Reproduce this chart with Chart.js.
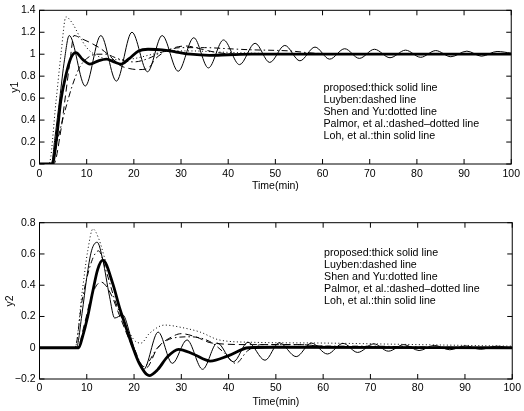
<!DOCTYPE html>
<html><head><meta charset="utf-8">
<script src="https://cdn.jsdelivr.net/npm/chart.js@4.4.1/dist/chart.umd.min.js"></script>
<style>
html,body{margin:0;padding:0;background:#fff;width:524px;height:411px;overflow:hidden}
canvas{position:absolute;left:0}
#c1{top:0}#c2{top:205px}
</style></head>
<body>
<canvas id="c1" width="524" height="205"></canvas>
<canvas id="c2" width="524" height="206"></canvas>
<script>
// ---------- axis ticks ----------
const xTicks = [0,10,20,30,40,50,60,70,80,90,100];
const xTickLabels = ['0','10','20','30','40','50','60','70','80','90','100'];
const y1Ticks = [0,0.2,0.4,0.6,0.8,1,1.2,1.4];
const y1TickLabels = ['0','0.2','0.4','0.6','0.8','1','1.2','1.4'];
const y2Ticks = [-0.2,0,0.2,0.4,0.6,0.8];
const y2TickLabels = ['\u22120.2','0','0.2','0.4','0.6','0.8'];
const legendLines = ['proposed:thick solid line','Luyben:dashed line','Shen and Yu:dotted line','Palmor, et al.:dashed\u2013dotted line','Loh, et al.:thin solid line'];

// ---------- y1 series ----------
const t1Proposed = [0,2.7,3.5,4.5,5.6,6.7,7.7,9.2,10.7,12.5,14.2,15.8,17.3,19,21,23,26,29,32,36,40,45,100];
const y1Proposed = [0,0,0.19,0.57,0.81,0.97,1.015,0.95,0.91,0.94,0.955,0.93,0.91,0.96,1.03,1.045,1.04,1.02,1.0,0.99,0.995,1.0,1.0];
const t1Luyben = [0,3,4.5,5.5,6.5,7.3,9,11,13,15,17,19,21,23,24.6,28,31,34,37,42,50,100];
const y1Luyben = [0,0,0.3,0.62,0.95,1.17,1.14,1.1,1.05,0.98,0.9,0.87,0.86,0.87,0.96,1.05,1.075,1.05,1.02,1.0,1.0,1.0];
const t1Shen = [0,2,3.5,4.6,5.6,7,8.4,10,12,14,17,20,24,28,32,38,45,55,100];
const y1Shen = [0,0,0.57,1.02,1.34,1.28,1.17,1.06,0.99,0.96,0.95,0.96,1.0,1.03,1.03,1.02,1.01,1.0,1.0];
const t1Palmor = [0,2.5,4,5.5,7,8.5,10,12,14,16,18,20,23,26,30,35,40,45,50,53,58,65,100];
const y1Palmor = [0,0,0.25,0.5,0.72,0.88,0.96,1.0,1.0,0.97,0.94,0.93,0.96,1.02,1.06,1.06,1.05,1.04,1.035,1.03,1.01,1.0,1.0];
const t1Loh = [0,2.5,3.3,4.3,5.3,6.3,9.7,13,16.3,19.6,22.9,26,29.4,32.7,35.8,39,42.4,45.7,48.8,52,55.2,58.4,61.5,64.7,67.8,71,74.3,77.6,80.8,84,87.2,90.6,93.7,97,100];
const y1Loh = [0,0,0.25,0.6,0.95,1.17,0.71,1.17,0.755,1.2,0.84,1.17,0.845,1.15,0.875,1.13,0.905,1.1,0.925,1.08,0.94,1.065,0.955,1.05,0.962,1.045,0.968,1.037,0.972,1.033,0.977,1.028,0.982,1.025,1.01];

// ---------- y2 series ----------
const t2Proposed = [0,8.3,9.1,10.2,11.2,12.3,13.4,15.5,16.9,18.3,19.7,21.1,23.2,25,27,29.4,32.5,36.1,40,44.2,50,100];
const y2Proposed = [0,0,0.07,0.2,0.35,0.5,0.56,0.41,0.26,0.13,0.006,-0.1,-0.178,-0.14,-0.06,-0.01,-0.04,-0.085,-0.05,0.0,0.003,0];
const t2Luyben = [0,8,9.5,11,13,15,17,19,21,22.5,25,28,30,33,36.5,45,55,60,70,80,100];
const y2Luyben = [0,0,0.15,0.33,0.42,0.35,0.2,0.05,-0.08,-0.13,0.0,0.07,0.09,0.07,0.03,0.02,0.02,0.01,0.005,0,0];
const t2Shen = [0,7.5,9,10.2,11.3,12.5,14,16,18,20,21.5,23.2,26.5,30,34,38,45,60,80,100];
const y2Shen = [0,0,0.35,0.62,0.76,0.7,0.55,0.35,0.17,0.05,0.03,0.09,0.145,0.13,0.1,0.05,0.035,0.03,0.02,0.01];
const t2Palmor = [0,7.5,9,11,12.5,14,16,18,20,22,25,28,32,36,39,41.5,44,47,50,55,60,70,80,100];
const y2Palmor = [0,0,0.3,0.55,0.62,0.5,0.3,0.15,0.0,-0.12,0.0,0.06,0.07,0.04,-0.03,-0.1,-0.02,0.02,0.02,0.02,0.01,0.01,0.005,0];
const t2Loh = [0,7.8,9,10,11,12.2,13.4,14.8,15.9,17.6,19.3,20.6,22,25.1,28.1,31.2,34.5,37.6,41,44.1,47.7,50.7,54.3,57.5,60.9,64.2,67.3,70.7,73.8,77.1,80.3,83.5,86.8,90.1,93.3,96.7,100];
const y2Loh = [0,0,0.22,0.45,0.62,0.675,0.56,0.33,0.19,0.21,0.07,-0.06,-0.14,0.1,-0.1,0.05,-0.138,0.03,-0.09,0.035,-0.08,0.032,-0.057,0.03,-0.04,0.028,-0.03,0.025,-0.022,0.02,-0.018,0.015,-0.013,0.012,-0.01,0.01,-0.005];

const FONT = "'Liberation Sans', Arial, Helvetica, sans-serif";
Chart.defaults.font.family = FONT;
Chart.defaults.font.size = 10.5;
Chart.defaults.color = '#000';

function pts(t, y){ return t.map((v,i)=>({x:v, y:y[i]})); }

function series(sets){
  const styles = [
    {label:'Loh', w:1, dash:[]},
    {label:'Luyben', w:1, dash:[7,4]},
    {label:'Shen and Yu', w:1, dash:[1,2.5]},
    {label:'Palmor', w:1, dash:[6,3,1.5,3]},
    {label:'proposed', w:2.8, dash:[]}
  ];
  return styles.map((s,i)=>({
    label:s.label, data:pts(sets[i][0], sets[i][1]),
    borderColor:'#000', borderWidth:s.w, borderDash:s.dash,
    pointRadius:0, fill:false, cubicInterpolationMode:'monotone'
  }));
}

const framePlugin = {
  id:'frame',
  afterDatasetsDraw(chart, args, opts){
    const {ctx, chartArea:a, scales:{x, y}} = chart;
    ctx.save();
    ctx.strokeStyle = '#000'; ctx.lineWidth = 1;
    ctx.strokeRect(a.left, a.top, a.right-a.left, a.bottom-a.top);
    ctx.beginPath();
    x.ticks.forEach(t=>{
      const px = x.getPixelForValue(t.value);
      ctx.moveTo(px, a.bottom); ctx.lineTo(px, a.bottom-5);
      ctx.moveTo(px, a.top); ctx.lineTo(px, a.top+5);
    });
    y.ticks.forEach(t=>{
      const py = y.getPixelForValue(t.value);
      ctx.moveTo(a.left, py); ctx.lineTo(a.left+5, py);
      ctx.moveTo(a.right, py); ctx.lineTo(a.right-5, py);
    });
    ctx.stroke();
    ctx.font = '10.7px ' + FONT;
    ctx.fillStyle = '#000';
    ctx.textBaseline = 'middle';
    ctx.textAlign = 'left';
    const lx = x.getPixelForValue(opts.lx);
    const ly = y.getPixelForValue(opts.ly);
    legendLines.forEach((s,i)=>ctx.fillText(s, lx, ly + i*12));
    ctx.restore();
  }
};

function makeChart(id, sets, yTicks, yLabels, ymin, ymax, cfg){
  return new Chart(document.getElementById(id), {
    type:'line',
    data:{datasets:series(sets)},
    options:{
      responsive:false, animation:false, devicePixelRatio:1,
      layout:{padding:{top:cfg.padTop, right:9, left:0, bottom:0}},
      plugins:{legend:{display:false}, tooltip:{enabled:false}, frame:{lx:cfg.lx, ly:cfg.ly}},
      scales:{
        x:{type:'linear', min:0, max:100,
          afterBuildTicks:s=>{s.ticks = xTicks.map(v=>({value:v}));},
          afterFit:s=>{s.height = cfg.xh;},
          grid:{display:false, drawTicks:false}, border:{display:false},
          ticks:{padding:cfg.xpad, maxRotation:0, autoSkip:false, callback:(v,i)=>xTickLabels[i]},
          title:{display:true, text:'Time(min)', padding:{top:0, bottom:cfg.xtpad}}
        },
        y:{type:'linear', min:ymin, max:ymax,
          afterBuildTicks:s=>{s.ticks = yTicks.map(v=>({value:v}));},
          afterFit:s=>{s.width = 39.5;},
          grid:{display:false, drawTicks:false}, border:{display:false},
          ticks:{padding:4, autoSkip:false, callback:(v,i)=>yLabels[i]},
          title:{display:true, text:cfg.ytitle, padding:{top:cfg.ytpad, bottom:0}}
        }
      }
    },
    plugins:[framePlugin]
  });
}

makeChart('c1',
  [[t1Loh,y1Loh],[t1Luyben,y1Luyben],[t1Shen,y1Shen],[t1Palmor,y1Palmor],[t1Proposed,y1Proposed]],
  y1Ticks, y1TickLabels, 0, 1.4,
  {padTop:7, xh:41, xpad:4, xtpad:12.7, ytitle:'y1', ytpad:9.2, lx:60.2, ly:0.696});

makeChart('c2',
  [[t2Loh,y2Loh],[t2Luyben,y2Luyben],[t2Shen,y2Shen],[t2Palmor,y2Palmor],[t2Proposed,y2Proposed]],
  y2Ticks, y2TickLabels, -0.2, 0.8,
  {padTop:17.7, xh:32, xpad:3, xtpad:3, ytitle:'y2', ytpad:4, lx:60.2, ly:0.608});
</script>
</body></html>
